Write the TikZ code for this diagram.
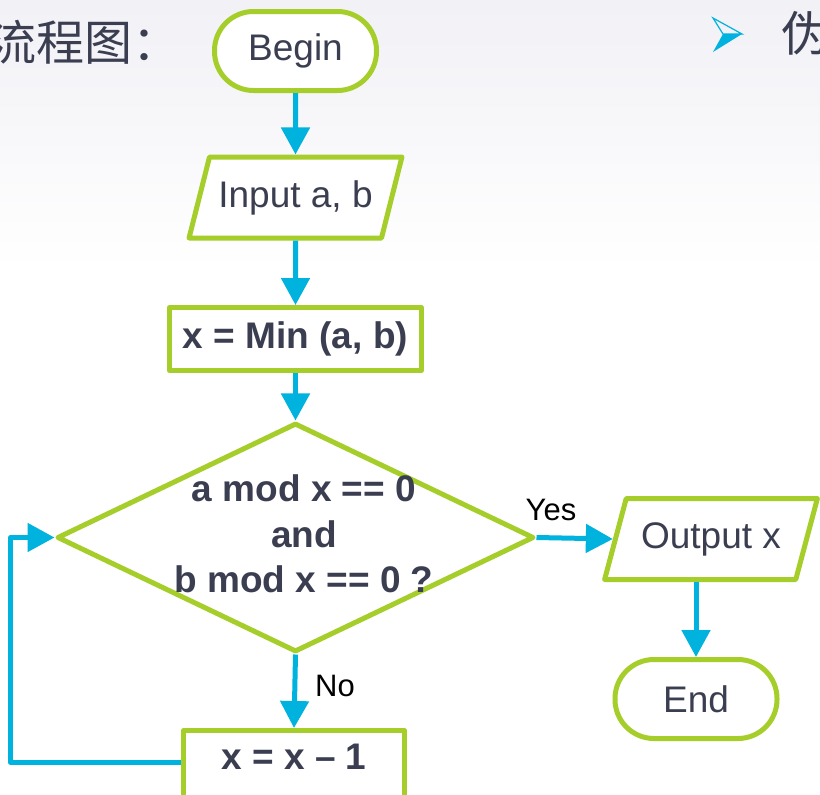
\documentclass[tikz,border=0pt]{standalone}
\usepackage{fontspec}
\setmainfont{Liberation Sans}
\newfontfamily\cjk{Noto Sans CJK SC}
\usetikzlibrary{shapes.geometric, arrows.meta}
\definecolor{lgreen}{RGB}{166,206,43}
\definecolor{flowblue}{RGB}{0,178,222}
\definecolor{ink}{RGB}{58,62,80}
\definecolor{bgtop}{RGB}{241,241,246}

\begin{document}
\begin{tikzpicture}[x=1pt, y=-1pt,
  shapebase/.style={draw=lgreen, line width=5pt, fill=white, line join=round, inner sep=0pt, text=ink},
  terminal/.style={shapebase, rectangle, rounded corners=39pt, minimum width=162pt, minimum height=79pt, font=\fontsize{37}{44}\selectfont},
  iobox/.style={shapebase, trapezium, trapezium left angle=62, trapezium right angle=118, trapezium stretches=true, minimum width=213pt, minimum height=81pt, font=\fontsize{37}{44}\selectfont},
  procbox/.style={shapebase, rectangle, font=\fontsize{37}{44}\selectfont\bfseries},
  decision/.style={shapebase, diamond, minimum width=477pt, minimum height=229pt},
  condtext/.style={text=ink, inner sep=0pt, align=center, font=\fontsize{37}{45.5}\selectfont\bfseries},
  flow/.style={draw=flowblue, line width=5pt, line join=round, -{Triangle[length=27pt,width=28pt]}},
  branch/.style={font=\fontsize{31}{36}\selectfont, text=black, inner sep=0pt},
  heading/.style={font=\cjk\fontsize{48}{56}\selectfont, text=ink, inner sep=0pt}
]
\useasboundingbox (0,0) rectangle (820,795);
\clip (0,0) rectangle (820,795);

% page background: soft grey band fading to white
\fill[white] (0,0) rectangle (820,795);
\shade[top color=bgtop, bottom color=white] (0,0) rectangle (820,270);

% headings
\node[heading, anchor=west] (title) at (-12,42) {流程图：};
\node[heading, anchor=west] (pseudo) at (781,33) {伪};
% arrowhead bullet
\fill[flowblue] (723,34) -- (742,34) -- (713,52) -- cycle;
\draw[flowblue, line width=1.2pt, line join=miter] (723,34) -- (713,18) -- (742,34) -- cycle;

% flowchart nodes
\node[terminal] (begin) at (295.5,51) {Begin};
\node[iobox] (in) at (295.5,197.5) {Input a, b};
\node[procbox, minimum width=252pt, minimum height=63pt] (min) at (295.5,339) {x = Min (a, b)};
\node[decision] (dec) at (295.5,537.5) {};
\node[condtext] (cond) at (304,534) {a mod x == 0\\and\\b mod x == 0 ?};
\node[iobox] (out) at (711,539) {Output x};
\node[terminal] (end) at (696,699) {End};
\node[procbox, minimum width=221pt, text height=38.5pt, text depth=43pt] (dec1) at (294,771.25) {x = x \textendash{} 1};

% branch labels
\node[branch] (yes) at (551,510) {Yes};
\node[branch] (no) at (335,686) {No};

% connectors
\draw[flow] (begin) -- (in);
\draw[flow] (in) -- (min);
\draw[flow] (min) -- (dec);
\draw[flow] (dec.east) -- (out.west);
\draw[flow] (dec.south) -- (dec1.north);
\draw[flow] (end.north |- out.south) -- (end.north);
\coordinate (loopcorner) at (10.5,537.5);
\draw[flow] ([yshift=9pt]dec1.west) -| (loopcorner) -- (dec.west);
\end{tikzpicture}
\end{document}
